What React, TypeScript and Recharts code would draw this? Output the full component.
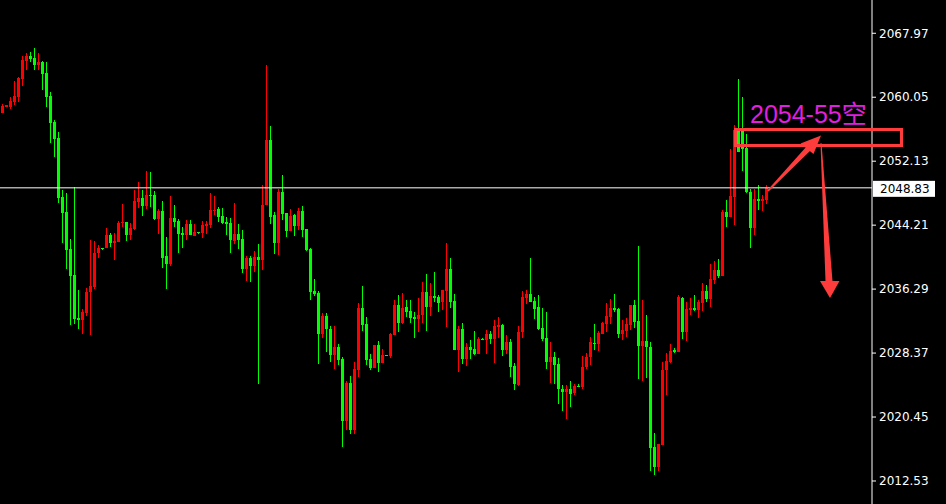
import { ComposedChart, Bar, XAxis, YAxis, ReferenceLine } from 'recharts';

// OHLC, one entry per candle (left to right)
const opens = [
  2058.14, 2058.89, 2058.89, 2059.46, 2060.13, 2062.31, 2064.57, 2065.19, 2064.90, 2064.00,
  2064.41, 2063.05, 2060.21, 2056.99, 2055.00, 2047.68, 2045.83, 2041.25, 2038.03, 2032.71,
  2032.50, 2033.33, 2035.97, 2036.55, 2040.76, 2041.38, 2041.38, 2042.99, 2041.99, 2042.16,
  2044.44, 2044.60, 2042.99, 2043.73, 2047.07, 2047.57, 2046.58, 2047.94, 2047.94, 2044.97,
  2045.96, 2040.39, 2039.40, 2045.09, 2044.72, 2043.24, 2042.99, 2044.35, 2042.86, 2043.36,
  2043.24, 2044.10, 2044.23, 2045.96, 2046.21, 2045.34, 2044.60, 2044.47, 2042.25, 2043.11,
  2042.49, 2038.78, 2040.14, 2039.15, 2040.26, 2039.89, 2046.70, 2054.75, 2045.46, 2041.99,
  2048.31, 2045.71, 2043.48, 2045.46, 2044.10, 2045.96, 2043.73, 2041.25, 2036.05, 2035.80,
  2030.73, 2032.96, 2031.35, 2028.13, 2029.12, 2027.63, 2019.95, 2024.66, 2018.84, 2026.27,
  2033.95, 2031.97, 2027.63, 2026.52, 2029.37, 2027.14, 2028.13, 2028.00, 2030.60, 2034.32,
  2032.09, 2034.07, 2033.58, 2032.83, 2032.58, 2033.08, 2035.93, 2034.07, 2035.43, 2035.31,
  2034.69, 2036.05, 2038.78, 2034.82, 2028.75, 2031.35, 2027.63, 2029.12, 2028.87, 2028.25,
  2030.11, 2029.98, 2030.73, 2030.11, 2031.60, 2031.84, 2028.75, 2029.74, 2026.77, 2024.41,
  2030.98, 2035.19, 2035.68, 2034.82, 2034.07, 2031.47, 2030.23, 2027.26, 2027.88, 2027.01,
  2023.92, 2023.54, 2023.92, 2023.42, 2024.29, 2024.16, 2026.64, 2027.88, 2029.61, 2029.49,
  2030.73, 2031.97, 2032.83, 2033.95, 2033.82, 2030.73, 2031.10, 2031.84, 2034.32, 2032.34,
  2029.24, 2029.86, 2029.12, 2016.73, 2014.26, 2016.98, 2026.27, 2027.26, 2028.75, 2028.50,
  2035.19, 2030.98, 2033.70, 2033.95, 2033.70, 2034.57, 2036.05, 2035.06, 2037.42, 2038.65,
  2037.91, 2045.84, 2045.22, 2047.69, 2055.99, 2055.87, 2053.76, 2048.31, 2043.85, 2047.45,
  2047.20, 2047.32,
];

const highs = [
  2059.18, 2059.09, 2060.04, 2062.10, 2062.61, 2065.16, 2065.49, 2065.61, 2066.15, 2065.49,
  2064.50, 2064.41, 2060.70, 2057.23, 2055.74, 2048.56, 2048.19, 2042.49, 2048.93, 2036.18,
  2033.82, 2036.42, 2042.37, 2042.25, 2041.75, 2041.40, 2043.85, 2043.24, 2043.24, 2044.72,
  2046.83, 2044.65, 2044.47, 2048.56, 2049.55, 2048.56, 2050.91, 2050.79, 2048.44, 2046.21,
  2047.20, 2042.74, 2047.82, 2046.70, 2044.97, 2043.98, 2044.85, 2044.85, 2044.35, 2043.40,
  2044.72, 2044.72, 2048.19, 2047.82, 2046.46, 2046.33, 2045.22, 2045.09, 2046.95, 2044.35,
  2043.61, 2040.39, 2040.39, 2041.01, 2041.87, 2049.18, 2064.04, 2056.49, 2045.84, 2048.68,
  2050.42, 2045.75, 2046.21, 2045.59, 2046.33, 2046.58, 2043.75, 2041.38, 2037.54, 2036.05,
  2033.33, 2033.33, 2031.72, 2031.72, 2029.49, 2027.88, 2024.91, 2025.53, 2027.26, 2034.57,
  2036.67, 2032.83, 2028.25, 2029.40, 2029.86, 2028.87, 2028.15, 2030.85, 2034.94, 2035.56,
  2035.80, 2034.94, 2034.94, 2033.45, 2035.19, 2037.17, 2038.16, 2037.04, 2038.41, 2035.56,
  2036.20, 2042.00, 2040.14, 2035.68, 2031.72, 2032.09, 2029.61, 2029.98, 2031.10, 2030.36,
  2030.20, 2031.22, 2031.10, 2032.46, 2032.83, 2031.97, 2030.61, 2030.11, 2027.14, 2031.72,
  2036.05, 2036.18, 2040.14, 2035.31, 2035.56, 2033.95, 2033.45, 2029.74, 2028.50, 2027.76,
  2024.41, 2024.41, 2024.91, 2024.53, 2024.53, 2028.00, 2028.37, 2030.36, 2031.97, 2031.10,
  2032.20, 2034.57, 2035.06, 2035.68, 2033.95, 2032.46, 2032.71, 2034.35, 2034.94, 2041.62,
  2034.94, 2033.08, 2029.74, 2018.47, 2017.12, 2027.26, 2028.37, 2029.49, 2029.00, 2035.56,
  2035.31, 2034.69, 2035.19, 2035.56, 2034.94, 2037.04, 2036.80, 2039.40, 2039.77, 2040.02,
  2046.08, 2047.32, 2053.64, 2056.61, 2062.31, 2060.08, 2055.50, 2048.68, 2048.68, 2049.18,
  2047.94, 2049.18,
];

const lows = [
  2058.02, 2058.84, 2058.57, 2059.09, 2059.46, 2061.48, 2063.33, 2064.41, 2063.46, 2063.42,
  2060.86, 2058.89, 2054.43, 2052.68, 2046.90, 2041.96, 2038.81, 2031.88, 2031.93, 2031.38,
  2030.76, 2032.99, 2030.64, 2036.30, 2040.14, 2041.20, 2041.35, 2041.50, 2039.89, 2042.12,
  2044.02, 2042.25, 2042.37, 2043.61, 2046.37, 2045.34, 2046.21, 2046.46, 2044.85, 2043.11,
  2038.90, 2036.30, 2039.15, 2043.98, 2040.76, 2041.38, 2042.37, 2042.95, 2042.83, 2043.20,
  2042.62, 2043.11, 2043.85, 2045.46, 2044.60, 2044.35, 2042.99, 2040.76, 2041.87, 2041.25,
  2038.28, 2037.29, 2037.17, 2038.41, 2024.57, 2038.65, 2046.65, 2044.35, 2040.63, 2040.51,
  2044.85, 2042.74, 2043.45, 2042.86, 2043.61, 2042.74, 2041.00, 2034.94, 2035.43, 2027.01,
  2030.23, 2028.50, 2027.26, 2026.39, 2026.89, 2016.73, 2018.84, 2018.34, 2018.34, 2025.40,
  2031.10, 2026.89, 2026.27, 2026.50, 2026.02, 2027.10, 2027.98, 2027.76, 2030.58, 2030.98,
  2031.97, 2032.83, 2032.09, 2030.23, 2030.98, 2032.09, 2031.10, 2032.96, 2034.69, 2033.45,
  2033.70, 2031.60, 2033.95, 2028.70, 2026.02, 2027.01, 2026.77, 2027.63, 2028.13, 2028.20,
  2029.95, 2028.25, 2029.49, 2027.14, 2030.23, 2028.00, 2028.25, 2025.40, 2023.79, 2024.28,
  2030.23, 2034.44, 2034.65, 2032.58, 2031.22, 2029.86, 2026.39, 2024.66, 2024.53, 2022.06,
  2021.19, 2020.20, 2021.69, 2023.17, 2024.10, 2023.92, 2026.39, 2026.89, 2028.75, 2028.62,
  2030.70, 2030.98, 2031.97, 2033.45, 2030.23, 2029.98, 2030.36, 2031.22, 2031.47, 2025.16,
  2024.91, 2025.28, 2013.76, 2013.27, 2013.76, 2016.95, 2023.17, 2027.13, 2028.37, 2028.45,
  2030.11, 2029.86, 2033.08, 2033.58, 2032.71, 2033.58, 2034.69, 2034.07, 2036.92, 2037.66,
  2037.88, 2043.98, 2045.20, 2044.23, 2053.25, 2050.91, 2048.19, 2041.38, 2042.99, 2046.08,
  2045.96, 2046.83,
];

const closes = [
  2058.97, 2059.06, 2059.59, 2060.21, 2062.47, 2064.66, 2065.19, 2064.78, 2064.07, 2064.41,
  2062.96, 2060.13, 2056.89, 2054.93, 2047.60, 2045.74, 2041.17, 2037.95, 2032.62, 2032.50,
  2033.45, 2035.93, 2036.67, 2040.76, 2041.38, 2041.25, 2042.99, 2041.99, 2042.25, 2044.47,
  2044.60, 2042.99, 2043.85, 2047.20, 2047.57, 2046.58, 2047.94, 2047.82, 2044.97, 2045.96,
  2040.14, 2039.40, 2045.09, 2044.60, 2043.11, 2042.99, 2044.35, 2042.99, 2043.36, 2043.24,
  2044.23, 2044.35, 2046.08, 2046.08, 2045.22, 2044.47, 2044.35, 2042.37, 2043.11, 2042.37,
  2038.78, 2040.14, 2039.15, 2040.26, 2039.89, 2046.70, 2054.75, 2045.22, 2041.99, 2048.31,
  2045.59, 2043.48, 2045.34, 2044.10, 2045.96, 2043.61, 2041.13, 2035.93, 2035.68, 2030.73,
  2032.96, 2031.35, 2028.13, 2029.12, 2027.51, 2019.95, 2024.66, 2018.84, 2026.39, 2033.95,
  2031.84, 2027.51, 2026.52, 2029.37, 2027.14, 2028.13, 2028.00, 2030.73, 2034.32, 2032.09,
  2033.95, 2033.45, 2032.71, 2032.58, 2033.08, 2035.93, 2034.07, 2035.43, 2035.19, 2034.57,
  2036.18, 2038.78, 2034.69, 2028.75, 2031.35, 2027.63, 2029.12, 2028.75, 2028.25, 2030.11,
  2029.98, 2030.73, 2030.11, 2031.72, 2031.84, 2028.75, 2029.74, 2026.64, 2024.53, 2030.98,
  2035.31, 2035.68, 2034.69, 2033.82, 2031.35, 2030.11, 2027.26, 2027.88, 2026.89, 2023.92,
  2023.54, 2023.92, 2023.30, 2024.29, 2024.16, 2026.64, 2027.88, 2029.74, 2029.49, 2030.85,
  2032.09, 2032.96, 2033.95, 2033.70, 2030.73, 2031.22, 2031.97, 2034.32, 2032.21, 2029.24,
  2029.86, 2029.12, 2016.61, 2014.26, 2017.10, 2026.27, 2027.38, 2028.62, 2028.50, 2035.31,
  2030.98, 2033.82, 2033.95, 2033.70, 2034.69, 2036.05, 2035.06, 2037.54, 2038.65, 2037.91,
  2045.84, 2045.22, 2047.82, 2055.99, 2053.27, 2053.64, 2048.31, 2043.85, 2047.45, 2047.20,
  2047.45, 2048.83,
];

const priceTicks = [2012.53, 2020.45, 2028.37, 2036.29, 2044.21, 2052.13, 2060.05, 2067.97];
const lastPrice = 2048.83;
const noteText = '2054-55空';
const EMPTY_SLOTS = 26; // blank space between last candle and the price axis

const UP = '#ff0000';
const DOWN = '#00ff00';
const NOTE_RED = '#ff3c3c';

const data = [
  ...opens.map((open, i) => ({
    idx: i,
    open,
    high: highs[i],
    low: lows[i],
    close: closes[i],
  })),
  ...Array.from({ length: EMPTY_SLOTS }, (_, k) => ({ idx: opens.length + k, open: null, high: null, low: null, close: null })),
];

function Candle(props: any) {
  const { x, y, height, payload } = props;
  if (!payload || payload.open == null) return null;
  const { open, close, high, low } = payload;
  const top = Math.min(y, y + height);
  const h = Math.abs(height);
  const span = high - low || 1;
  const yOf = (v: number) => top + ((high - v) / span) * h;
  const color = close >= open ? UP : DOWN;
  const left = Math.floor(x);
  const bodyTop = Math.round(yOf(Math.max(open, close)));
  const bodyBot = Math.round(yOf(Math.min(open, close)));
  return (
    <g>
      <rect x={left + 1} y={Math.round(top)} width={1} height={Math.max(1, Math.round(h))} fill={color} />
      <rect x={left} y={bodyTop} width={3} height={Math.max(1, bodyBot - bodyTop)} fill={color} />
    </g>
  );
}

function PriceTag(props: any) {
  const { viewBox } = props;
  const ax = viewBox.x + viewBox.width;
  const cy = viewBox.y;
  return (
    <g>
      <rect x={ax + 1} y={cy - 7} width={62} height={16} fill="#ffffff" />
      <text x={ax + 8} y={cy + 5} fill="#000000" fontSize={12} fontFamily="DejaVu Sans">
        {lastPrice.toFixed(2)}
      </text>
    </g>
  );
}

export default function App() {
  return (
    <div style={{ position: 'absolute', left: 0, top: 0, width: 946, height: 504, background: '#000', overflow: 'hidden' }}>
      <ComposedChart width={946} height={504} data={data} margin={{ top: 0, right: 0, bottom: 0, left: 0 }} barCategoryGap={0}>
        <XAxis dataKey="idx" hide />
        <YAxis
          orientation="right"
          width={74}
          domain={[2009.68, 2072.09]}
          allowDataOverflow
          ticks={priceTicks}
          interval={0}
          tickFormatter={(v: number) => v.toFixed(2)}
          tick={{ fill: '#ffffff', fontSize: 12, fontFamily: 'DejaVu Sans' }}
          tickSize={4}
          tickMargin={3}
          stroke="#ffffff"
          axisLine={{ stroke: '#ffffff' }}
          tickLine={{ stroke: '#ffffff' }}
        />
        <ReferenceLine y={lastPrice} stroke="#ffffff" strokeWidth={1} label={<PriceTag />} />
        <Bar
          dataKey={(d: any) => (d.open == null ? null : [d.low, d.high])}
          shape={<Candle />}
          barSize={3}
          isAnimationActive={false}
        />
      </ComposedChart>
      <svg width={946} height={504} style={{ position: 'absolute', left: 0, top: 0, pointerEvents: 'none' }}>
        <text x={750} y={123} fill="#e11fe1" fontSize={25} fontFamily="'Liberation Sans', Arial, 'Noto Sans CJK SC'">
          {noteText}
        </text>
        <rect x={735.5} y={129.5} width={166} height={16} fill="none" stroke={NOTE_RED} strokeWidth={3} />
        <polygon points="768.6,191.4 767.4,190.2 806.5,146.5 810.5,150.5" fill={NOTE_RED} />
        <polygon points="821,135.5 800.5,143.5 813.5,154" fill={NOTE_RED} />
        <polygon points="821.5,143 820.5,143 825.5,281 832.5,281" fill={NOTE_RED} />
        <polygon points="820,281 839.5,281 830,298" fill={NOTE_RED} />
      </svg>
    </div>
  );
}
